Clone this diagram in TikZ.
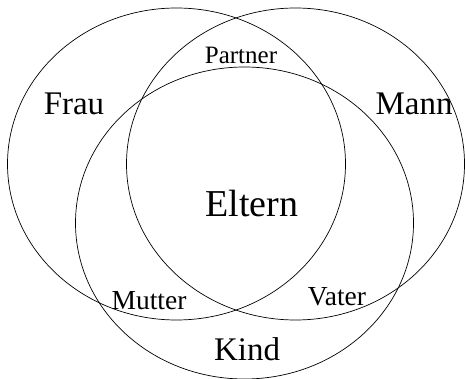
\documentclass[tikz,border=0pt]{standalone}
\usepackage{fontspec}
\setmainfont{Liberation Serif}
\usepackage{tikz}
\usetikzlibrary{positioning}

\begin{document}
\begin{tikzpicture}[
        x=1pt, y=-1pt,
        set/.style={draw=black, line width=0.7pt},
        settext/.style={anchor=base, inner sep=0pt, font=\fontsize{#1}{#1}\selectfont}
    ]
        \useasboundingbox (0,0) rectangle (465,379);

        \coordinate (frau) at (176.5,164);
        \coordinate (mann) at (295.5,164);
        \coordinate (kind) at (244.5,223);

        \draw[set] (frau) ellipse [x radius=169pt, y radius=156pt];
        \draw[set] (mann) ellipse [x radius=169pt, y radius=156pt];
        \draw[set] (kind) ellipse [x radius=169pt, y radius=156pt];

        \node[settext=33] (frautext) at (74,115) {Frau};
        \node[settext=33] (manntext) at (414,115) {Mann};
        \node[settext=33] (kindtext) at (247,360) {Kind};
        \node[settext=25] (partner) at (241,64) {Partner};
        \node[settext=38] (eltern) at (252,216) {Eltern};
        \node[settext=27.5] (mutter) at (149,309) {Mutter};
        \node[settext=27.5] (vater) at (337,305) {Vater};
    \end{tikzpicture}
\end{document}
